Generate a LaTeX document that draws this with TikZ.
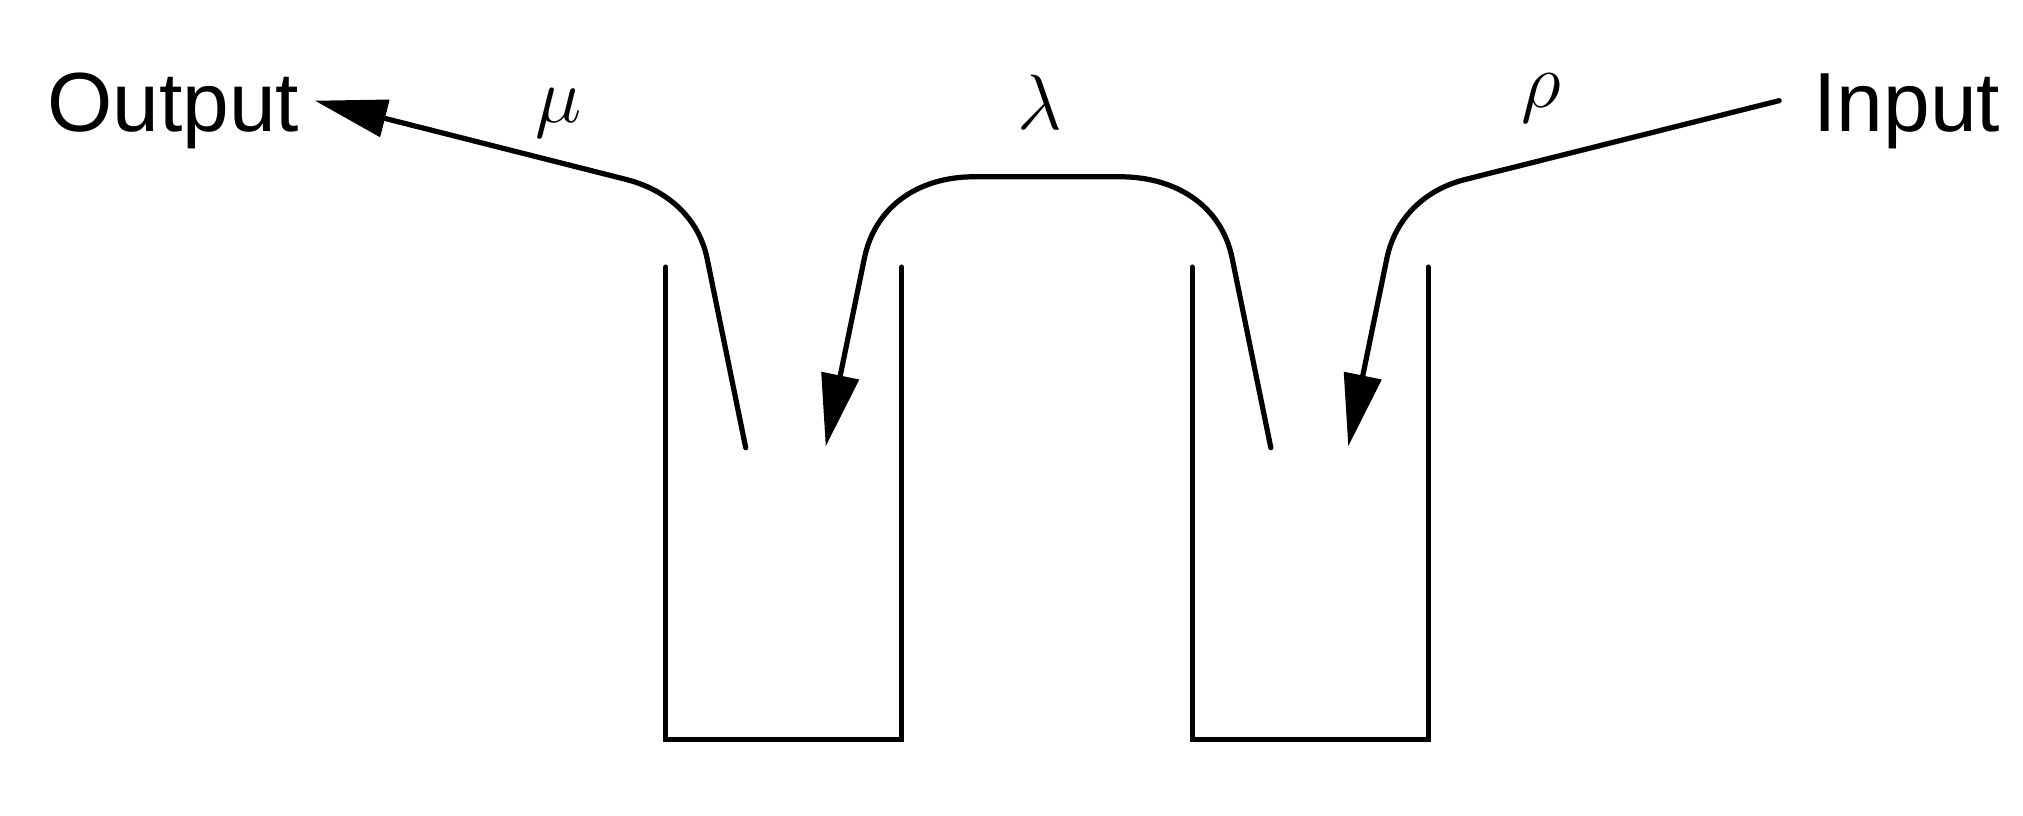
\documentclass[tikz,border=0pt]{standalone}
\usepackage{fontspec}
\setmainfont{Liberation Sans}
\usetikzlibrary{arrows.meta}
\tikzset{
  flow/.style={line width=1.15pt, line cap=round, -{Triangle[length=0.56cm,width=0.29cm]}},
  wall/.style={line width=1.15pt, line cap=round},
  word/.style={inner sep=0pt, font=\fontsize{18.5}{22}\selectfont},
  greek/.style={inner sep=0pt, font=\fontsize{19}{22}\selectfont}
}
\begin{document}
\begin{tikzpicture}[x=0.01cm,y=-0.01cm]
\useasboundingbox (0,0) rectangle (1568,632);
% text
\node[word, anchor=base west] (out) at (36,102) {Output};
\node[word, anchor=base east] (in) at (1551,102) {Input};
\node[greek] (mu) at (433,88) {$\mu$};
\node[greek] (lam) at (806,79) {$\lambda$};
\node[greek] (rho) at (1195,76) {$\rho$};
% buckets
\coordinate (L1) at (516,207); \coordinate (L2) at (516,573);
\coordinate (L3) at (699,573); \coordinate (L4) at (699,207);
\coordinate (R1) at (924,207); \coordinate (R2) at (924,573);
\coordinate (R3) at (1107,573); \coordinate (R4) at (1107,207);
\draw[wall] (L1) -- (L2) -- (L3) -- (L4);
\draw[wall] (R1) -- (R2) -- (R3) -- (R4);
% output arrow
\coordinate (os) at (578,347);
\coordinate (oa) at (548,200);
\coordinate (ob) at (485,139);
\coordinate (ot) at (244,78);
\draw[flow] (os) -- (oa) .. controls (541.7,169.9) and (518.4,147.4) .. (ob) -- (ot);
% middle arrow
\coordinate (ms) at (985,347);
\coordinate (ma) at (955,200);
\coordinate (mb) at (868,137);
\coordinate (mc) at (755,137);
\coordinate (md) at (670,200);
\coordinate (mt) at (640,346);
\draw[flow] (ms) -- (ma) .. controls (946.9,160.4) and (912.8,137) .. (mb) -- (mc)
  .. controls (711.4,137) and (678.2,160.4) .. (md) -- (mt);
% input arrow
\coordinate (is) at (1379,78);
\coordinate (ia) at (1136,139);
\coordinate (ib) at (1075,200);
\coordinate (it) at (1045,346);
\draw[flow] (is) -- (ia) .. controls (1103.9,147.0) and (1081.4,169.5) .. (ib) -- (it);
\end{tikzpicture}
\end{document}
